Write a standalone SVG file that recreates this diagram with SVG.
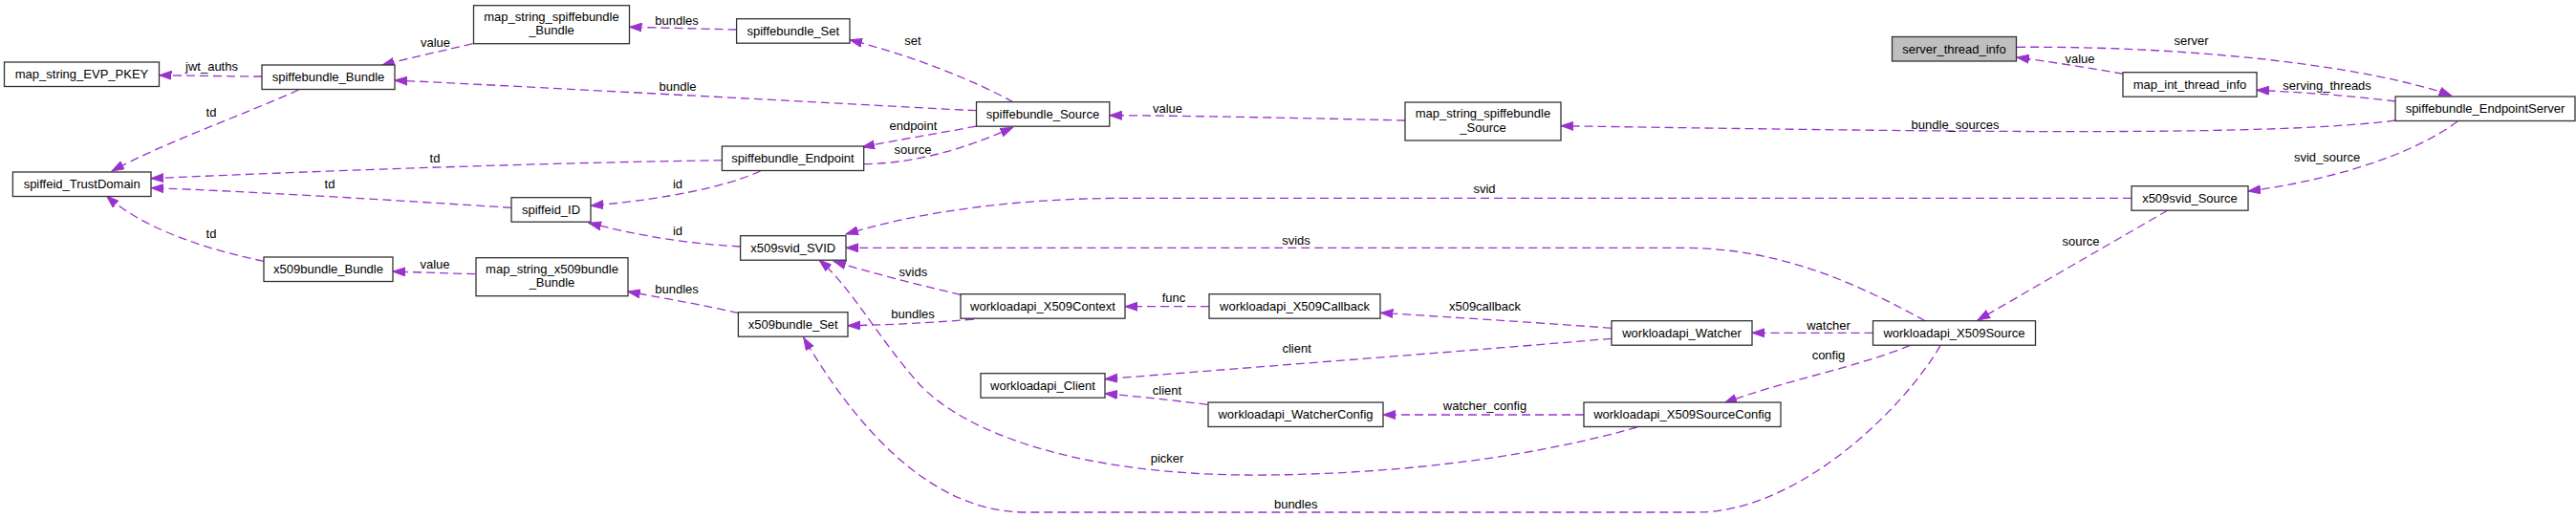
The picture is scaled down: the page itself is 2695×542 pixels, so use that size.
<svg xmlns="http://www.w3.org/2000/svg" width="2695" height="542" viewBox="0 0 2695 542">
<style>
.n rect{fill:#fff;stroke:#333;stroke-width:1.3}
.n.g rect{fill:#bfbfbf}
text{font-family:"Liberation Sans",Arial,sans-serif;font-size:13px;fill:#000;text-anchor:middle}
.e path{fill:none;stroke:#9a32cd;stroke-width:1.3;stroke-dasharray:9,5;marker-end:url(#a)}
</style>
<defs>
<marker id="a" markerUnits="userSpaceOnUse" markerWidth="14" markerHeight="10" refX="13" refY="5" orient="auto">
<path d="M0,0.5 L13,5 L0,9.5 z" fill="#9a32cd" stroke="#9a32cd" stroke-width="1"/>
</marker>
</defs>
<rect width="2695" height="542" fill="#fff"/>
<g id="edges" class="e">
<path d="M494.6,45.7 C460,54 430,60 399.6,68.3"/>
<path d="M770.6,31 C730,30 690,29 658.5,28.3"/>
<path d="M274,80 C240,80 200,79 166.5,78.7"/>
<path d="M312.5,94 C250,122 170,150 117,179"/>
<path d="M755.4,167.7 C600,170 400,176 158,186.7"/>
<path d="M535,217.3 C420,210 260,200 158,196.7"/>
<path d="M795.6,179 C760,195 700,208 618,215.3"/>
<path d="M774.6,258 C740,256 690,252 616,233.3"/>
<path d="M497,286.7 C470,286 440,285 411,284"/>
<path d="M276,273.3 C220,262 150,240 111.6,205"/>
<path d="M772.4,327.7 C740,320 700,313 656.7,305"/>
<path d="M1060,106.7 C1020,85 960,60 889,41.7"/>
<path d="M1021.5,115.7 C850,107 600,93 413,84"/>
<path d="M1021.5,132 C980,140 940,146 902,154"/>
<path d="M903.7,171.7 C950,171 1000,160 1059.5,133.3"/>
<path d="M1470,126 C1380,124 1250,121 1160.8,120.7"/>
<path d="M2506,126 C2380,142 2100,139 1633,131.7"/>
<path d="M2110,49.3 C2300,48 2480,70 2564.7,100"/>
<path d="M2221.4,77.3 C2180,70 2140,64 2110,60"/>
<path d="M2506,106 C2460,100 2400,96 2360.7,94.3"/>
<path d="M2571,127 C2520,165 2430,190 2352,200"/>
<path d="M2230,207.3 L1180,207.3 C1050,207.3 950,225 885,245"/>
<path d="M2014,335.7 C1940,295 1860,259.3 1760,259.3 L885,259.3"/>
<path d="M2268,220 L2069,335"/>
<path d="M1959.5,348.3 L1833,348.3"/>
<path d="M1998,361.7 C1940,385 1860,400 1804,421.7"/>
<path d="M2030,361.7 C1990,430 1880,536 1775,536 L1073,536 C960,536 880,420 840.7,353.3"/>
<path d="M1712.7,447 C1580,485 1420,498 1300,497 C1130,495 1010,455 960,400 C920,355 890,300 857,272"/>
<path d="M1005,308.3 C960,298 910,285 872,273.3"/>
<path d="M1019,334 C970,338 930,340 887,340.7"/>
<path d="M1265,320.7 L1177,320.7"/>
<path d="M1686,343.3 C1600,337 1520,332 1444.4,327.3"/>
<path d="M1686,354.3 C1500,370 1300,385 1156,396.7"/>
<path d="M1263.5,423.3 C1220,418 1190,415 1156,411.7"/>
<path d="M1657,434 L1447,434"/>
</g>
<g id="edge-labels">
<text x="455.5" y="48.5">value</text>
<text x="708" y="26">bundles</text>
<text x="221.5" y="74">jwt_auths</text>
<text x="221" y="122">td</text>
<text x="455" y="170">td</text>
<text x="345" y="197">td</text>
<text x="709" y="197">id</text>
<text x="709" y="246">id</text>
<text x="455" y="281">value</text>
<text x="221" y="249">td</text>
<text x="708" y="307">bundles</text>
<text x="955" y="47">set</text>
<text x="709" y="95">bundle</text>
<text x="955.4" y="136">endpoint</text>
<text x="955" y="161">source</text>
<text x="1221.5" y="118">value</text>
<text x="2045.5" y="135">bundle_sources</text>
<text x="2292.6" y="47">server</text>
<text x="2176" y="66">value</text>
<text x="2434.6" y="94">serving_threads</text>
<text x="2434.6" y="169">svid_source</text>
<text x="1553" y="202">svid</text>
<text x="1356" y="256">svids</text>
<text x="2177" y="257">source</text>
<text x="1913" y="345">watcher</text>
<text x="1913" y="376">config</text>
<text x="1355.7" y="532">bundles</text>
<text x="1221" y="484">picker</text>
<text x="955.4" y="289">svids</text>
<text x="955" y="333">bundles</text>
<text x="1228" y="316">func</text>
<text x="1553.5" y="325">x509callback</text>
<text x="1356.6" y="369">client</text>
<text x="1221" y="413">client</text>
<text x="1553.5" y="429">watcher_config</text>
</g>
<g id="map_string_EVP_PKEY" class="n"><rect x="4.5" y="65" width="162" height="25.5"/><text x="85.5" y="82">map_string_EVP_PKEY</text></g>
<g id="spiffebundle_Bundle" class="n"><rect x="274" y="68" width="139" height="25.5"/><text x="343.5" y="85">spiffebundle_Bundle</text></g>
<g id="map_string_spiffebundle_Bundle" class="n"><rect x="495.5" y="5.7" width="163" height="40"/><text x="577" y="21.5">map_string_spiffebundle</text><text x="577" y="36">_Bundle</text></g>
<g id="spiffeid_TrustDomain" class="n"><rect x="13.4" y="180" width="144.6" height="25.5"/><text x="85.7" y="197">spiffeid_TrustDomain</text></g>
<g id="spiffeid_ID" class="n"><rect x="535" y="206.7" width="83" height="25.5"/><text x="576.5" y="224">spiffeid_ID</text></g>
<g id="x509bundle_Bundle" class="n"><rect x="276" y="269" width="135" height="25.5"/><text x="343.5" y="286">x509bundle_Bundle</text></g>
<g id="map_string_x509bundle_Bundle" class="n"><rect x="498" y="269.7" width="159" height="40"/><text x="577.5" y="285.5">map_string_x509bundle</text><text x="577.5" y="300">_Bundle</text></g>
<g id="spiffebundle_Set" class="n"><rect x="770.6" y="19.7" width="118.4" height="25.5"/><text x="829.8" y="37">spiffebundle_Set</text></g>
<g id="spiffebundle_Source" class="n"><rect x="1021.5" y="106.7" width="139.3" height="25.5"/><text x="1091" y="124">spiffebundle_Source</text></g>
<g id="spiffebundle_Endpoint" class="n"><rect x="755.4" y="153" width="148.3" height="25.5"/><text x="829.5" y="170">spiffebundle_Endpoint</text></g>
<g id="x509svid_SVID" class="n"><rect x="774.6" y="246.7" width="110.4" height="25.5"/><text x="829.8" y="264">x509svid_SVID</text></g>
<g id="x509bundle_Set" class="n"><rect x="772.4" y="326.7" width="114.6" height="25.5"/><text x="829.7" y="344">x509bundle_Set</text></g>
<g id="workloadapi_X509Context" class="n"><rect x="1005" y="307.7" width="172" height="25.5"/><text x="1091" y="325">workloadapi_X509Context</text></g>
<g id="workloadapi_Client" class="n"><rect x="1026" y="390.7" width="130" height="25.5"/><text x="1091" y="408">workloadapi_Client</text></g>
<g id="map_string_spiffebundle_Source" class="n"><rect x="1470" y="107" width="163" height="40"/><text x="1551.5" y="123">map_string_spiffebundle</text><text x="1551.5" y="137.5">_Source</text></g>
<g id="server_thread_info" class="n g"><rect x="1979.5" y="38.5" width="130" height="25.5"/><text x="2044.5" y="56">server_thread_info</text></g>
<g id="map_int_thread_info" class="n"><rect x="2221" y="75.7" width="140" height="25.5"/><text x="2291" y="93">map_int_thread_info</text></g>
<g id="spiffebundle_EndpointServer" class="n"><rect x="2506" y="101" width="188" height="25.5"/><text x="2600" y="118">spiffebundle_EndpointServer</text></g>
<g id="x509svid_Source" class="n"><rect x="2230" y="194.7" width="122" height="25.5"/><text x="2291" y="212">x509svid_Source</text></g>
<g id="workloadapi_X509Callback" class="n"><rect x="1265" y="307.7" width="179" height="25.5"/><text x="1354.5" y="325">workloadapi_X509Callback</text></g>
<g id="workloadapi_Watcher" class="n"><rect x="1686" y="335.7" width="147" height="25.5"/><text x="1759.5" y="353">workloadapi_Watcher</text></g>
<g id="workloadapi_WatcherConfig" class="n"><rect x="1264" y="421" width="183" height="25.5"/><text x="1355.5" y="438">workloadapi_WatcherConfig</text></g>
<g id="workloadapi_X509SourceConfig" class="n"><rect x="1657" y="421" width="206" height="25.5"/><text x="1760" y="438">workloadapi_X509SourceConfig</text></g>
<g id="workloadapi_X509Source" class="n"><rect x="1959.5" y="335.7" width="170" height="25.5"/><text x="2044.5" y="353">workloadapi_X509Source</text></g>
</svg>
